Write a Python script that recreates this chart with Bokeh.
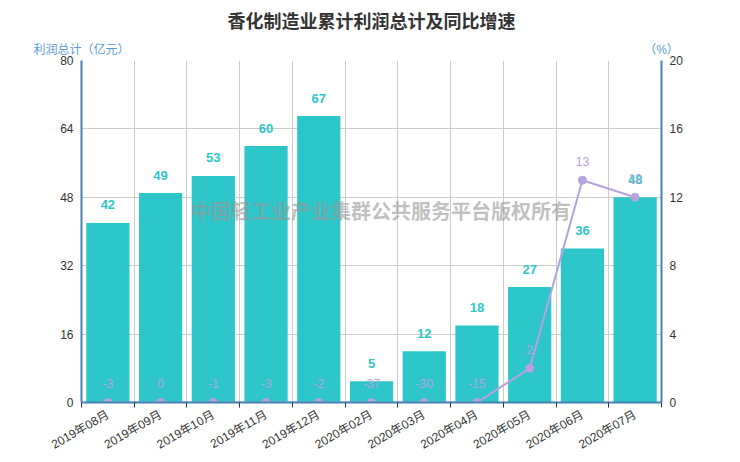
import numpy as np
from bokeh.plotting import figure
from bokeh.models import Range1d, LinearAxis, FixedTicker, ColumnDataSource, Title, AllLabels
from bokeh.core.properties import value
from bokeh.embed import file_html
from bokeh.resources import INLINE

# ---- data ----
months = ["2019年08月", "2019年09月", "2019年10月", "2019年11月", "2019年12月",
          "2020年02月", "2020年03月", "2020年04月", "2020年05月", "2020年06月", "2020年07月"]
profit = [42, 49, 53, 60, 67, 5, 12, 18, 27, 36, 48]          # 亿元
growth = [-3, 0, -1, -3, -2, -37, -30, -15, 2, 13, 12]        # %
left_ticks = [0, 16, 32, 48, 64, 80]
right_ticks = [0, 4, 8, 12, 16, 20]
title_text = "香化制造业累计利润总计及同比增速"
left_name = "利润总计（亿元）"
right_name = "（%）"
watermark = "中国轻工业产业集群公共服务平台版权所有"

BAR = "#2ec7c9"
LINE = "#b6a2de"
AXIS = "#4682b4"
NAME = "#5b9bd5"
FONT = "'Liberation Sans', 'Noto Sans CJK SC', sans-serif"

n = len(months)
xs = np.arange(n)
g_plot = np.clip(growth, right_ticks[0], right_ticks[-1])

src = ColumnDataSource(dict(
    x=xs, profit=profit, plabel=[str(v) for v in profit],
    gplot=g_plot, glabel=[str(v) for v in growth],
))

p = figure(width=740, height=462, output_backend="svg", toolbar_location=None,
           x_range=Range1d(-0.5, n - 0.5), y_range=Range1d(left_ticks[0], left_ticks[-1]),
           min_border_left=81, min_border_right=79, min_border_top=60, min_border_bottom=60)
p.outline_line_color = None
p.extra_y_ranges = {"pct": Range1d(right_ticks[0], right_ticks[-1])}
p.extra_x_ranges = {"hdr": Range1d(0, 1)}

# title
p.title = Title(text=title_text, align="center", vertical_align="top", text_font=FONT,
                text_font_size="18px", text_font_style="bold", text_color="#333333",
                standoff=12)

# axis names (as a label-only axis above the frame)
hdr = LinearAxis(x_range_name="hdr", ticker=FixedTicker(ticks=[0, 1]))
hdr.major_label_overrides = {0: left_name, 1: right_name}
hdr.major_label_policy = AllLabels()
hdr.axis_line_color = None
hdr.major_tick_out = 0
hdr.major_tick_in = 0
hdr.minor_tick_out = 0
hdr.minor_tick_in = 0
hdr.major_label_standoff = 4
hdr.major_label_text_font = FONT
hdr.major_label_text_font_size = "12px"
hdr.major_label_text_color = NAME
p.add_layout(hdr, "above")

# x axis
xa = p.below[0]
xa.ticker = FixedTicker(ticks=list(xs), minor_ticks=list(np.arange(n + 1) - 0.5))
xa.major_label_overrides = {int(i): m for i, m in zip(xs, months)}
xa.major_label_policy = AllLabels()
xa.major_label_orientation = np.pi / 6
xa.major_tick_out = 0
xa.major_tick_in = 0
xa.minor_tick_out = 5
xa.minor_tick_in = 0
xa.minor_tick_line_color = "#333333"
xa.axis_line_color = AXIS
xa.axis_line_width = 2
xa.major_label_text_font = FONT
xa.major_label_text_font_size = "12px"
xa.major_label_text_color = "#333333"
xa.major_label_standoff = 6

# left axis
p.yaxis.ticker = FixedTicker(ticks=left_ticks)
p.yaxis.axis_line_color = AXIS
p.yaxis.axis_line_width = 2
p.yaxis.major_tick_out = 0
p.yaxis.major_tick_in = 0
p.yaxis.minor_tick_out = 0
p.yaxis.minor_tick_in = 0
p.yaxis.major_label_text_font = FONT
p.yaxis.major_label_text_font_size = "12px"
p.yaxis.major_label_text_color = "#333333"
p.yaxis.major_label_standoff = 8

# right axis
ra = LinearAxis(y_range_name="pct", ticker=FixedTicker(ticks=right_ticks))
ra.axis_line_color = AXIS
ra.axis_line_width = 2
ra.major_tick_out = 0
ra.major_tick_in = 0
ra.minor_tick_out = 0
ra.minor_tick_in = 0
ra.major_label_text_font = FONT
ra.major_label_text_font_size = "12px"
ra.major_label_text_color = "#333333"
ra.major_label_standoff = 8
p.add_layout(ra, "right")

# grids
p.ygrid.ticker = FixedTicker(ticks=left_ticks)
p.ygrid.grid_line_color = "#cccccc"
p.xgrid.ticker = FixedTicker(ticks=list(np.arange(n + 1) - 0.5))
p.xgrid.grid_line_color = "#cccccc"

# bars
p.vbar(x="x", top="profit", width=0.82, bottom=0, source=src, color=BAR, line_color=None)
p.text(x="x", y="profit", text="plabel", source=src, text_align="center",
       text_baseline="middle", y_offset=-18, text_color=BAR, text_font_style="bold",
       text_font_size="13px", text_font=value("Liberation Sans"))

# watermark
p.text(x=[5.18], y=[44.9], text=[watermark], text_align="center", text_baseline="middle",
       text_font=value("Noto Sans CJK SC"), text_font_size="20px", text_font_style="bold",
       text_color="#969696", text_alpha=0.6)

# line
p.line(x="x", y="gplot", source=src, y_range_name="pct", line_color=LINE, line_width=2)
p.scatter(x="x", y="gplot", source=src, y_range_name="pct", size=8, color=LINE)
p.text(x="x", y="gplot", text="glabel", source=src, y_range_name="pct", text_align="center",
       text_baseline="middle", y_offset=-19, text_color=LINE, text_font_size="12px",
       text_font=value("Liberation Sans"))

open("out.html", "w").write(file_html(p, INLINE))
